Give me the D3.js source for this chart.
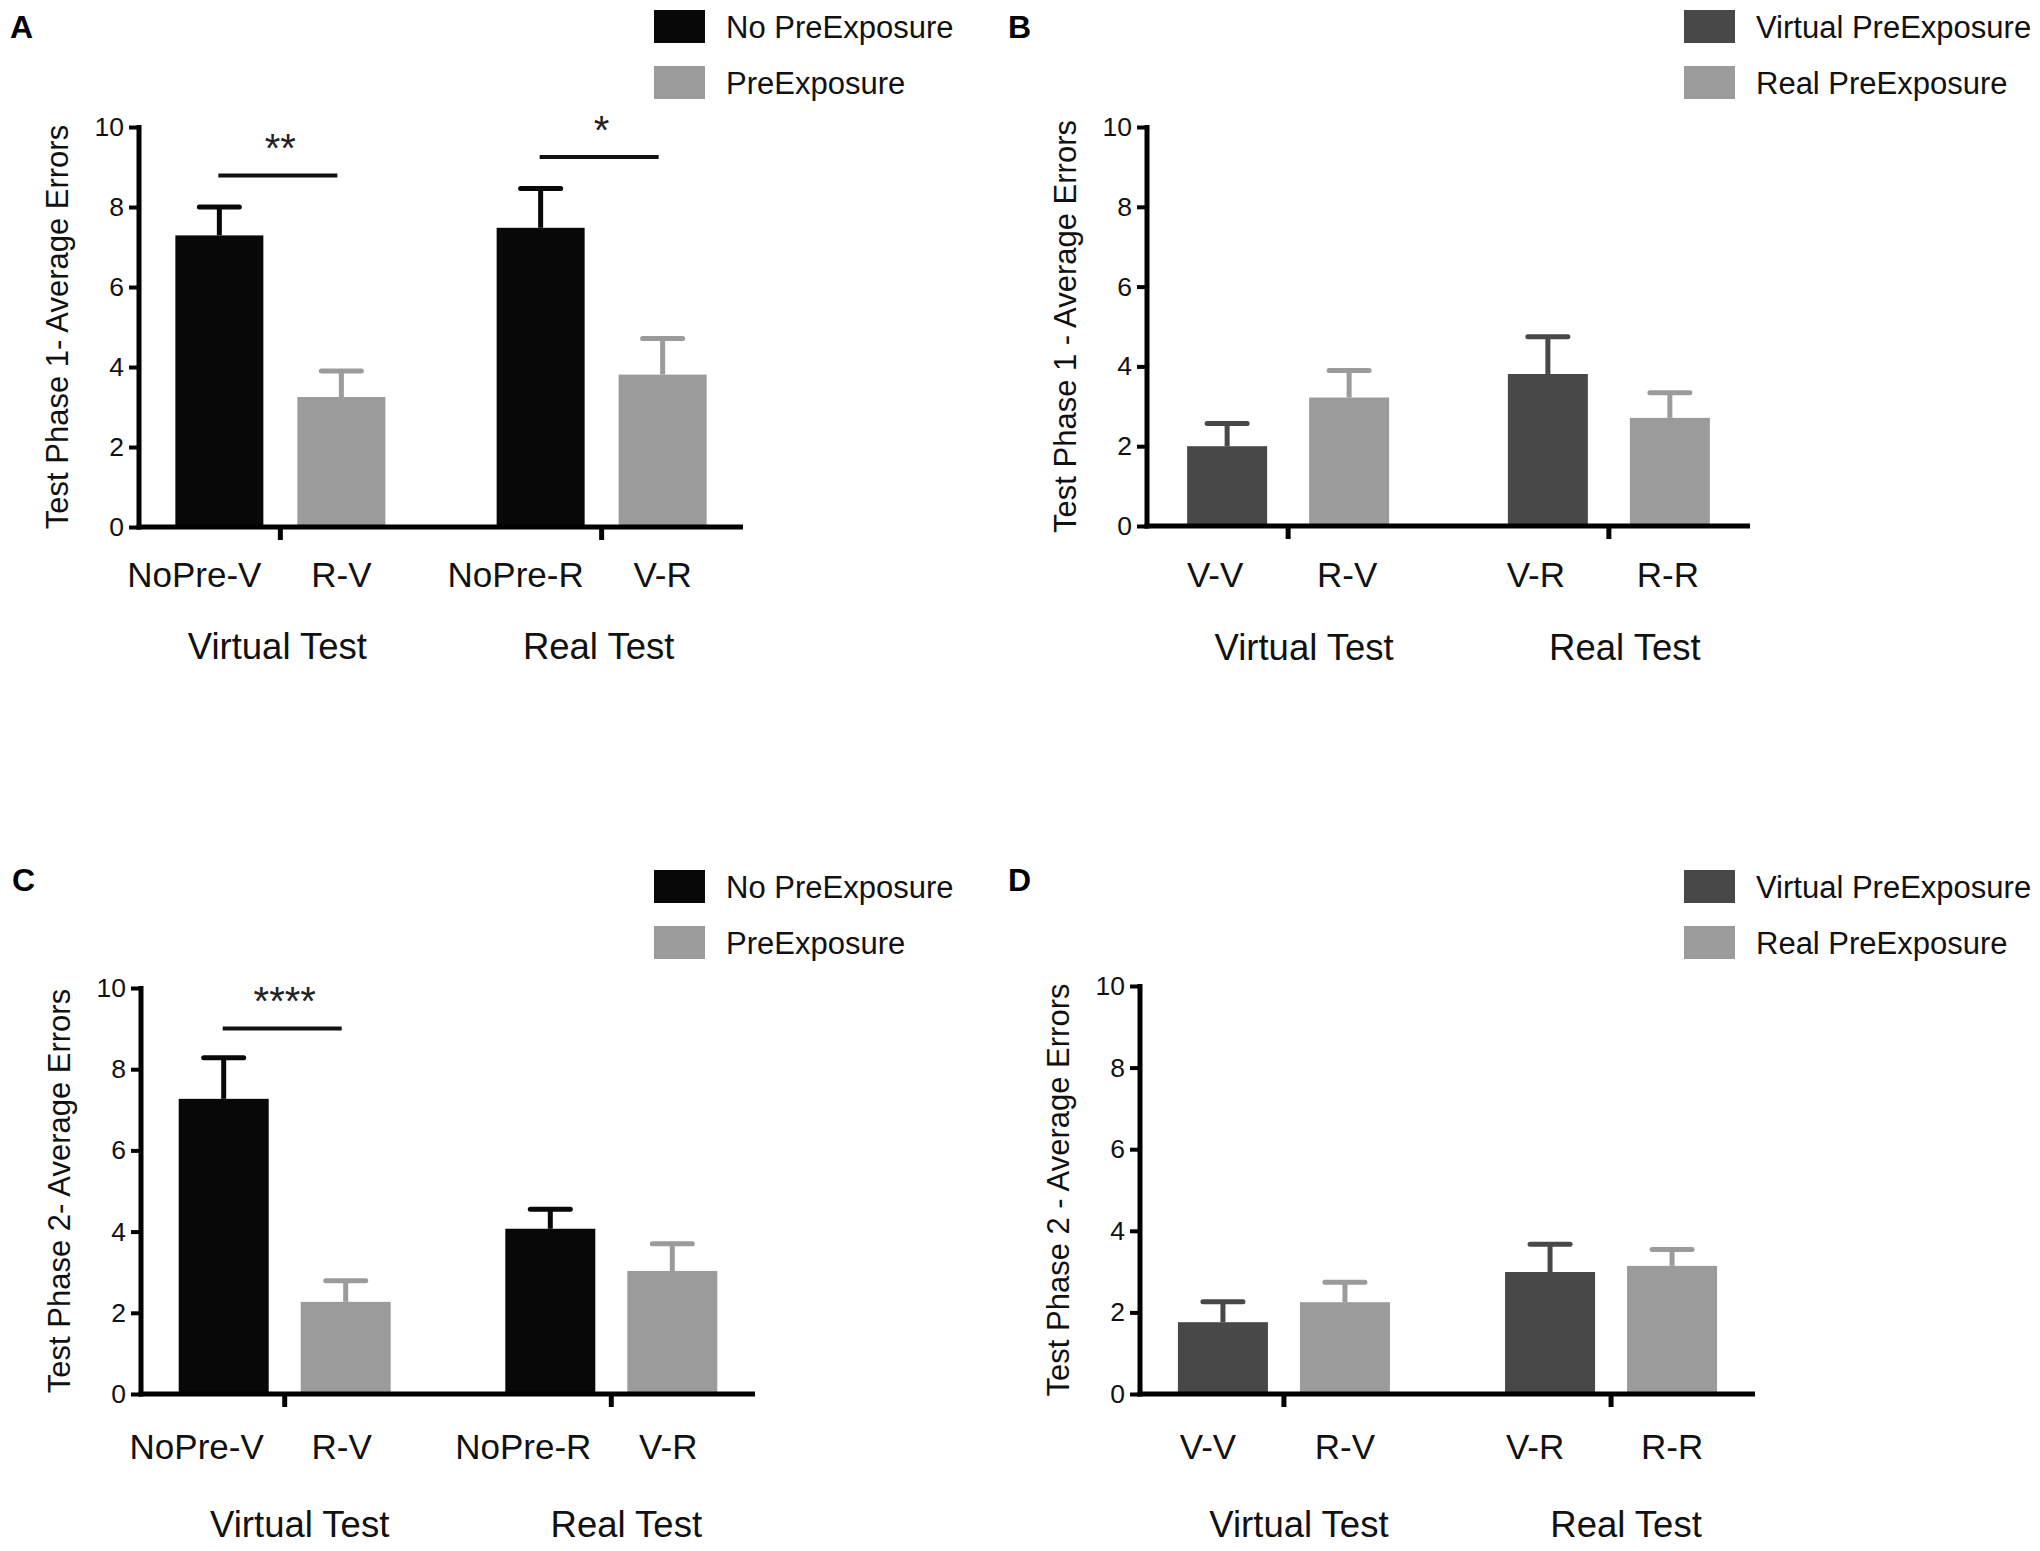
<!DOCTYPE html>
<html>
<head>
<meta charset="utf-8">
<script src="https://cdn.jsdelivr.net/npm/d3@7"></script>
<style>
  html, body { margin: 0; padding: 0; background: #ffffff; }
  svg { display: block; font-family: "Liberation Sans", Arial, Helvetica, sans-serif; }
</style>
</head>
<body>
<svg id="chart" width="2040" height="1551"></svg>
<script>
// ---------------- data ----------------
const groups = ["Virtual Test", "Real Test"];
const seriesAC = ["No PreExposure", "PreExposure"];
const seriesBD = ["Virtual PreExposure", "Real PreExposure"];
const labelsAC = ["NoPre-V", "R-V", "NoPre-R", "V-R"];
const labelsBD = ["V-V", "R-V", "V-R", "R-R"];
const yTicks = [0, 2, 4, 6, 8, 10];

const meanA = [7.29, 3.25, 7.48, 3.81];
const semA  = [0.71, 0.65, 0.98, 0.90];
const meanB = [2.00, 3.22, 3.81, 2.71];
const semB  = [0.57, 0.68, 0.93, 0.63];
const meanC = [7.27, 2.27, 4.07, 3.03];
const semC  = [1.01, 0.52, 0.48, 0.67];
const meanD = [1.76, 2.25, 2.99, 3.14];
const semD  = [0.50, 0.49, 0.68, 0.40];

const sigA = [{from: 0, to: 1, level: 8.79, text: "**"}, {from: 2, to: 3, level: 9.25, text: "*"}];
const sigB = [];
const sigC = [{from: 0, to: 1, level: 9.0, text: "****"}];
const sigD = [];

const titleA = "Test Phase 1- Average Errors";
const titleB = "Test Phase 1 - Average Errors";
const titleC = "Test Phase 2- Average Errors";
const titleD = "Test Phase 2 - Average Errors";

// ---------------- styles / layout ----------------
const colorsAC = ["#080808", "#9b9b9b"];
const colorsBD = ["#484848", "#9b9b9b"];

const panels = [
  {id: "A", mean: meanA, sem: semA, series: seriesAC, labels: labelsAC, colors: colorsAC, sig: sigA, title: titleA,
   L: {x0: 139, x1: 743, y0: 527, y10: 127, barW: 88, legX: 654, legY: 10, tagX: 10, tagY: 38, catDx: [-25, 0], grpDx: -3, catDy: 60, grpDy: 132}},
  {id: "B", mean: meanB, sem: semB, series: seriesBD, labels: labelsBD, colors: colorsBD, sig: sigB, title: titleB,
   L: {x0: 1147, x1: 1750, y0: 526, y10: 127, barW: 80, legX: 1684, legY: 10, tagX: 1008, tagY: 38, catDx: [-12, -2], grpDx: 16, catDy: 61, grpDy: 134}},
  {id: "C", mean: meanC, sem: semC, series: seriesAC, labels: labelsAC, colors: colorsAC, sig: sigC, title: titleC,
   L: {x0: 141, x1: 755, y0: 1394, y10: 988, barW: 90, legX: 654, legY: 870, tagX: 12, tagY: 891, catDx: [-27, -4], grpDx: 15, catDy: 65, grpDy: 143}},
  {id: "D", mean: meanD, sem: semD, series: seriesBD, labels: labelsBD, colors: colorsBD, sig: sigD, title: titleD,
   L: {x0: 1140, x1: 1755, y0: 1394, y10: 986, barW: 90, legX: 1684, legY: 870, tagX: 1008, tagY: 891, catDx: [-15, 0], grpDx: 15, catDy: 65, grpDy: 143}}
];

const svg = d3.select("#chart");
const AXW = 5;
const STAR_FS = 40;

panels.forEach(p => {
  const L = p.L;
  const g = svg.append("g");
  const y = d3.scaleLinear().domain([0, 10]).range([L.y0, L.y10]);
  const xg = d3.scalePoint().domain(groups).range([L.x0, L.x1]).padding(0.44);
  const xi = d3.scalePoint().domain([0, 1]).range([-61, 61]);

  const bars = p.mean.map((m, i) => {
    const gi = Math.floor(i / 2), si = i % 2;
    return {m, s: p.sem[i], gi, si, label: p.labels[i], cx: xg(groups[gi]) + xi(si)};
  });

  // bars
  g.selectAll("rect.bar").data(bars).join("rect")
    .attr("x", d => d.cx - L.barW / 2)
    .attr("y", d => y(d.m))
    .attr("width", L.barW)
    .attr("height", d => y(0) - y(d.m))
    .attr("fill", d => p.colors[d.si]);

  // error bars
  g.selectAll("line.stem").data(bars).join("line")
    .attr("x1", d => d.cx).attr("x2", d => d.cx)
    .attr("y1", d => y(d.m)).attr("y2", d => y(d.m + d.s))
    .attr("stroke", d => p.colors[d.si]).attr("stroke-width", 5);
  g.selectAll("line.cap").data(bars).join("line")
    .attr("x1", d => d.cx - 20).attr("x2", d => d.cx + 20)
    .attr("y1", d => y(d.m + d.s)).attr("y2", d => y(d.m + d.s))
    .attr("stroke", d => p.colors[d.si]).attr("stroke-width", 5)
    .attr("stroke-linecap", "round");

  // y axis
  const ya = g.append("g").attr("transform", `translate(${L.x0},0)`)
    .call(d3.axisLeft(y).tickValues(yTicks).tickSize(10).tickPadding(5).tickSizeOuter(0));
  ya.select(".domain").remove();
  ya.selectAll(".tick line").attr("stroke", "#000").attr("stroke-width", 4);
  ya.selectAll(".tick text").attr("font-size", 26.5).attr("fill", "#111")
    .attr("font-family", "'Liberation Sans', Arial, sans-serif");
  g.append("line").attr("x1", L.x0).attr("x2", L.x0)
    .attr("y1", y(10) - 2).attr("y2", y(0) + AXW / 2)
    .attr("stroke", "#000").attr("stroke-width", AXW);

  // x axis
  g.append("line").attr("x1", L.x0 - AXW / 2).attr("x2", L.x1)
    .attr("y1", y(0)).attr("y2", y(0))
    .attr("stroke", "#000").attr("stroke-width", AXW);
  g.selectAll("line.gtick").data(groups).join("line")
    .attr("x1", d => xg(d)).attr("x2", d => xg(d))
    .attr("y1", y(0)).attr("y2", y(0) + 13)
    .attr("stroke", "#000").attr("stroke-width", AXW);

  // category labels
  g.selectAll("text.cat").data(bars).join("text")
    .attr("x", d => d.cx + L.catDx[d.si])
    .attr("y", y(0) + L.catDy)
    .attr("text-anchor", "middle")
    .attr("font-size", 35).attr("fill", "#111")
    .text(d => d.label);

  // group labels
  g.selectAll("text.grp").data(groups).join("text")
    .attr("x", d => xg(d) + L.grpDx)
    .attr("y", y(0) + L.grpDy)
    .attr("text-anchor", "middle")
    .attr("font-size", 36.5).attr("fill", "#111")
    .text(d => d);

  // y title
  g.append("text")
    .attr("transform", `translate(${L.x0 - 71},${(y(0) + y(10)) / 2}) rotate(-90)`)
    .attr("text-anchor", "middle")
    .attr("font-size", 31).attr("fill", "#111")
    .text(p.title);

  // significance
  p.sig.forEach(s => {
    const xa = bars[s.from].cx, xb = bars[s.to].cx;
    const ly = y(s.level);
    g.append("line").attr("x1", xa - 1).attr("x2", xb - 4).attr("y1", ly).attr("y2", ly)
      .attr("stroke", "#111").attr("stroke-width", 4);
    g.append("text").attr("x", (xa + xb) / 2).attr("y", ly - 36.5 + 0.575 * STAR_FS)
      .attr("text-anchor", "middle").attr("font-size", STAR_FS).attr("fill", "#222")
      .text(s.text);
  });

  // legend
  const leg = g.append("g").attr("transform", `translate(${L.legX},${L.legY})`);
  p.series.forEach((sname, i) => {
    leg.append("rect").attr("x", 0).attr("y", i * 56).attr("width", 51).attr("height", 33)
      .attr("fill", p.colors[i]);
    leg.append("text").attr("x", 72).attr("y", i * 56 + 16.5 + 11)
      .attr("font-size", 31).attr("fill", "#111").text(sname);
  });

  // panel tag
  g.append("text").attr("x", L.tagX).attr("y", L.tagY)
    .attr("font-size", 32).attr("font-weight", "bold").attr("fill", "#000")
    .text(p.id);
});
</script>
</body>
</html>
